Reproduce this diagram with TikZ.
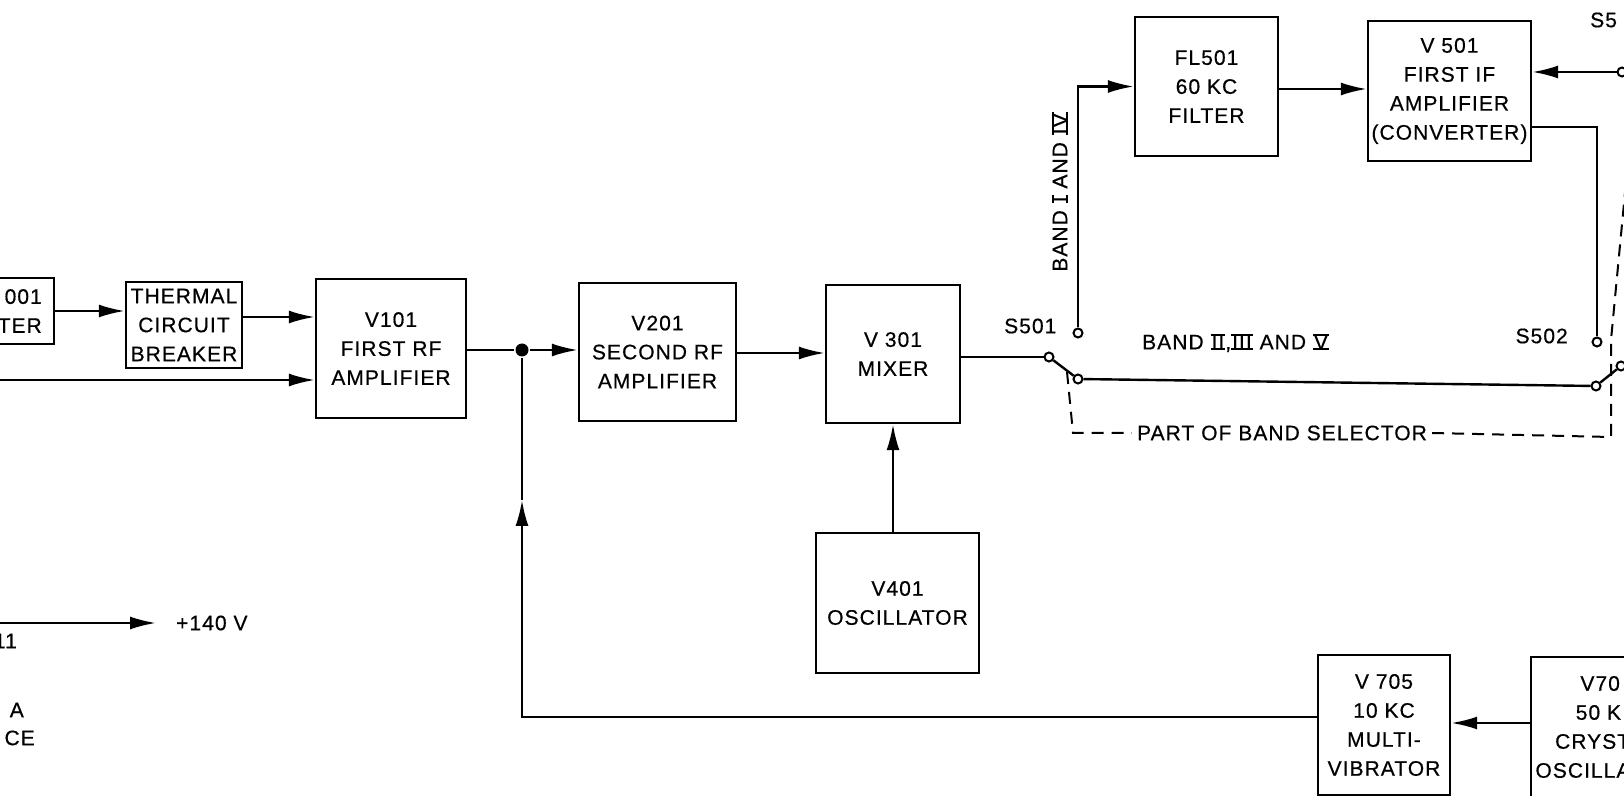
\documentclass[tikz,border=0pt]{standalone}
\usepackage{fontspec}
\setmainfont{Liberation Sans}[LetterSpace=5, FakeBold=0.5]
\usetikzlibrary{arrows.meta}

% roman band numbers with bars top and bottom
\newcommand{\bandrm}[1]{\setbox0=\hbox{\kern0.5pt#1\kern0.5pt}%
  \rlap{\rule[-0.45pt]{\wd0}{0.9pt}}%
  \rlap{\rule[\dimexpr\ht0-0.45pt\relax]{\wd0}{0.9pt}}\box0\relax}

\begin{document}
\begin{tikzpicture}[x=0.5pt, y=-0.5pt, line width=1.2pt,
    >={Latex[length=13pt,width=6.5pt]},
    font=\fontsize{10.5}{14.5}\selectfont,
    blk/.style={draw, align=center, inner sep=1pt},
    lbl/.style={inner sep=0pt},
    contact/.style={circle, draw, line width=1pt, inner sep=0pt, minimum size=4.5pt, fill=white},
    bandsel/.style={line width=1pt, dash pattern=on 6pt off 4pt}]
    \useasboundingbox (0,0) rectangle (1624,796);
    \clip (0,0) rectangle (1624,796);

    % blocks
    \node[blk, anchor=east, text width=50pt, align=right, inner xsep=6pt, minimum height=33pt] (inbox) at (55,311) {001\\TER};
    \node[blk, minimum width=58pt, minimum height=43pt] (thermal) at (184,325) {THERMAL\\CIRCUIT\\BREAKER};
    \node[blk, minimum width=75pt, minimum height=69.5pt] (v101) at (391,348.5) {V101\\FIRST RF\\AMPLIFIER};
    \node[blk, minimum width=78.5pt, minimum height=69pt] (v201) at (657.5,352) {V201\\SECOND RF\\AMPLIFIER};
    \node[blk, minimum width=67pt, minimum height=69pt] (v301) at (893,354) {V 301\\MIXER};
    \node[blk, minimum width=81.5pt, minimum height=70pt] (v401) at (897.5,603) {V401\\OSCILLATOR};
    \node[blk, minimum width=71.5pt, minimum height=69.5pt] (fl501) at (1206.5,86.5) {FL501\\60 KC\\FILTER};
    \node[blk, minimum width=81.5pt, minimum height=70pt] (v501) at (1449.5,91) {V 501\\FIRST IF\\AMPLIFIER\\(CONVERTER)};
    \node[blk, minimum width=66pt, minimum height=70pt] (v705) at (1384,725) {V 705\\10 KC\\MULTI-\\VIBRATOR};
    \node[blk, minimum width=75pt, minimum height=70pt] (v70x) at (1606,727) {V70\phantom{1}\\50 K\phantom{C}\\CRYST\phantom{AL}\\OSCILLA\phantom{TOR}};

    % switch contacts
    \node[contact] (s1p) at (1049,357) {};
    \node[contact] (s1a) at (1078,333) {};
    \node[contact] (s1b) at (1078,379) {};
    \node[contact] (s2a) at (1597,342) {};
    \node[contact] (s2b) at (1596,386) {};
    \node[contact] (s2p) at (1621,366) {};
    \node[contact] (s3a) at (1622,72) {};
    \node[circle, fill, inner sep=0pt, minimum size=6.5pt] (jn) at (522,350) {};

    % labels
    \node[lbl, anchor=west] (s501) at (1003,326) {S501};
    \node[lbl, anchor=east] (s502) at (1569,336) {S502};
    \node[lbl, anchor=west] (s5) at (1589,20) {S5};
    \node[lbl, anchor=west] (band2) at (1141,343) {BAND \bandrm{II},\bandrm{III} AND \bandrm{V}};
    \node[lbl, rotate=90] (band1) at (1060,192) {BAND \bandrm{I} AND \bandrm{IV}};
    \node[lbl, inner xsep=2pt] (sel) at (1282,433) {PART OF BAND SELECTOR};
    \node[lbl, anchor=west] (pwr) at (175,623) {+140 V};
    \node[lbl, anchor=east] (bl1) at (18,641) {11};
    \node[lbl, anchor=east] (bl2) at (25,710) {A};
    \node[lbl, anchor=east] (bl3) at (36,738) {CE};

    \coordinate (inB) at (-5,380);
    \coordinate (inP) at (-5,623);
    \coordinate (fbtip) at (522,500);
    \coordinate (selA) at (1067,372);
    \coordinate (selB) at (1073,433);
    \coordinate (selC) at (1611,437);
    \coordinate (selD) at (1611,340);
    \coordinate (selE) at (1630,140);

    % signal path
    \draw[->] (inbox.east) -- (inbox.east -| thermal.west);
    \draw[->] (thermal.east |- 0,317) -- (v101.west |- 0,317);
    \draw[->] (inB) -- (v101.west |- inB);
    \draw (v101.east |- jn) -- (jn);
    \draw[->] (jn) -- (v201.west |- jn);
    \draw[->] (v201.east |- 0,353) -- (v301.west |- 0,353);
    \draw[->] (v401.north -| v301.south) -- (v301.south);
    \draw (v301.east |- s1p) -- (s1p);
    \draw (s1p) -- (s1b);
    \draw (s1b) -- (s2b);
    \draw (s2b) -- (s2p);
    \draw[->] (s1a) |- (fl501.west);
    \draw[->] (fl501.east |- 0,89) -- (v501.west |- 0,89);
    \draw[->] (s3a) -- (v501.east |- s3a);
    \draw (v501.east |- 0,127) -| (s2a);
    \draw[->] (v70x.west |- 0,723) -- (v705.east |- 0,723);
    \draw[->] (v705.west |- 0,717) -| (fbtip);
    \draw (fbtip) -- (jn);
    \draw[->] (inP) -- ([xshift=-9.5pt]pwr.west);

    % band selector link
    \draw[bandsel] (selA) -- (selB) -- (sel.west);
    \draw[bandsel] (sel.east) -- (selC) -- (selD) -- (selE);
\end{tikzpicture}
\end{document}
